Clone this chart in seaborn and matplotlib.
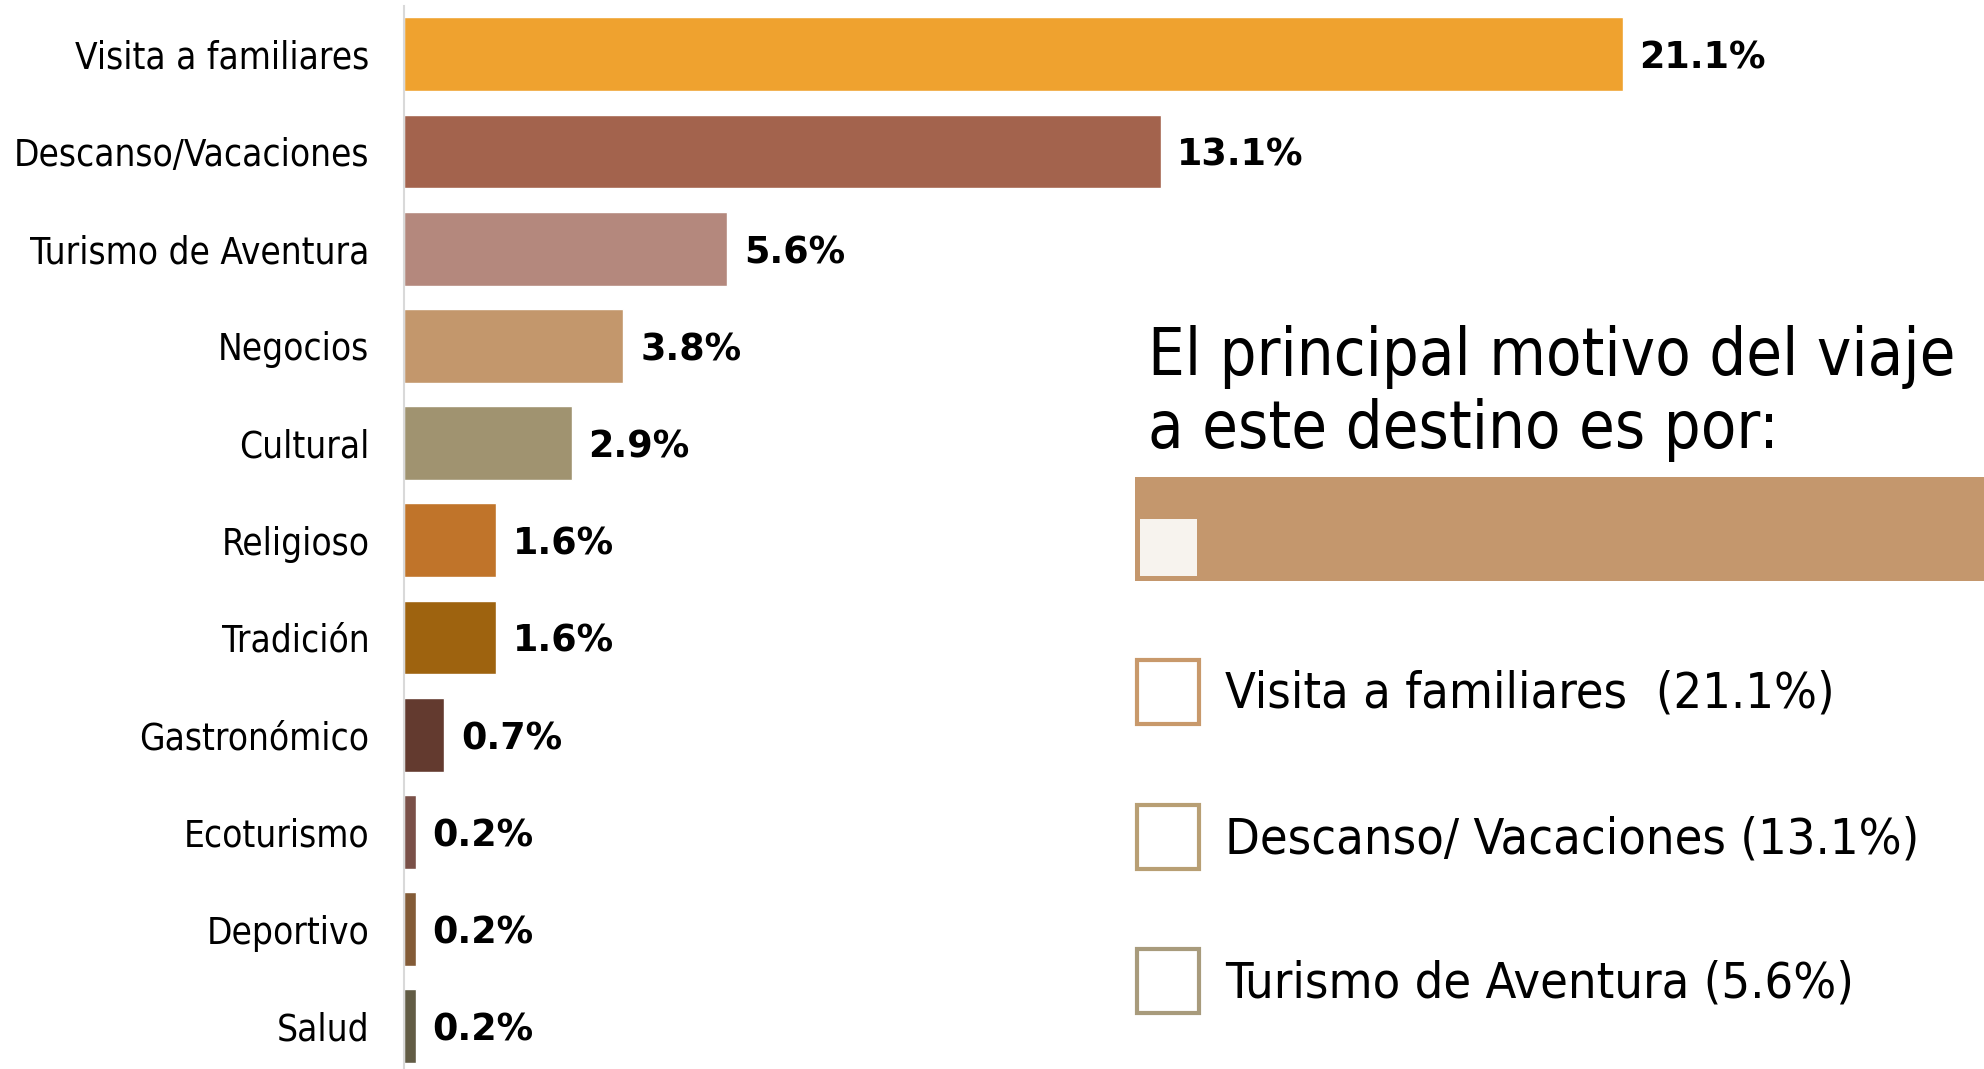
import matplotlib
matplotlib.use("Agg")
import matplotlib.pyplot as plt
from matplotlib import font_manager
from matplotlib.patches import Rectangle
import seaborn as sns

motivos = ["Visita a familiares", "Descanso/Vacaciones", "Turismo de Aventura", "Negocios",
           "Cultural", "Religioso", "Tradición", "Gastronómico", "Ecoturismo", "Deportivo", "Salud"]
porcentajes = [21.1, 13.1, 5.6, 3.8, 2.9, 1.6, 1.6, 0.7, 0.2, 0.2, 0.2]
colores = ["#efa22f", "#a3634d", "#b4887d", "#c3976c", "#a09370", "#c0742a",
           "#9e630f", "#633a2f", "#7a5048", "#835b37", "#625c45"]

titulo = ["El principal motivo del viaje", "a este destino es por:"]
destacados = ["Visita a familiares  (21.1%)", "Descanso/ Vacaciones (13.1%)", "Turismo de Aventura (5.6%)"]
colores_cajas = ["#c8996b", "#b89f74", "#a89b7c"]

sns.set_theme(style="white")
plt.rcParams['font.family'] = ['DejaVu Sans']

# condensed DejaVu is closer to the narrow original font; shrink if it is missing
condensed = any(f.name == 'DejaVu Sans' and f.stretch == 'condensed'
                for f in font_manager.fontManager.ttflist)
k = 1.0 if condensed else 0.91

W, H = 1984, 1069
fig = plt.figure(figsize=(W / 100, H / 100), dpi=100)

# bar area: x=0 at 404 px, 57.76 px per percent
ax = fig.add_axes([404 / W, 0, 1580 / W, (H - 5.7) / H])
sns.barplot(x=porcentajes, y=motivos, hue=motivos, palette=colores, legend=False,
            orient='h', width=0.76, saturation=1, ax=ax)
ax.set_xlim(0, 1580 / 57.76)
ax.set_ylim(10.44, -0.5)

for c in ax.containers:
    txts = ax.bar_label(c, labels=[f"{v:.1f}%" for v in c.datavalues], padding=12,
                        fontsize=26.3, fontweight='bold', color='black')
    for t in txts:
        t.set_va('center_baseline')

ax.set_xlabel("")
ax.set_ylabel("")
ax.set_xticks([])
ax.tick_params(axis='y', length=0, pad=25, labelsize=26.5 * k, labelcolor='black')
for t in ax.get_yticklabels():
    t.set_fontstretch('condensed')
for s in ['top', 'right', 'bottom']:
    ax.spines[s].set_visible(False)
ax.spines['left'].set_color('#d9d9d9')
ax.spines['left'].set_linewidth(1.5)

# right panel
fig.text(1148 / W, 1 - 375 / H, titulo[0], fontsize=46.6 * k, fontstretch='condensed',
         va='baseline', ha='left', color='black')
fig.text(1148 / W, 1 - 448 / H, titulo[1], fontsize=46.6 * k, fontstretch='condensed',
         va='baseline', ha='left', color='black')

fig.add_artist(Rectangle((1135 / W, 1 - 581 / H), (W - 1135) / W, 104 / H,
                         transform=fig.transFigure, facecolor='#c4976d', edgecolor='none'))
fig.add_artist(Rectangle((1140 / W, 1 - 576 / H), 57 / W, 57 / H,
                         transform=fig.transFigure, facecolor='#f7f3ee', edgecolor='none'))

tops = [660, 805, 949]
for txt, col, top in zip(destacados, colores_cajas, tops):
    fig.add_artist(Rectangle((1137 / W, 1 - (top + 64) / H), 62 / W, 64 / H,
                             transform=fig.transFigure, facecolor='white',
                             edgecolor=col, linewidth=3))
    fig.text(1225 / W, 1 - (top + 34) / H, txt, fontsize=36.2 * k, fontstretch='condensed',
             va='center', ha='left', color='black')

fig.savefig("out.png", dpi=100)
